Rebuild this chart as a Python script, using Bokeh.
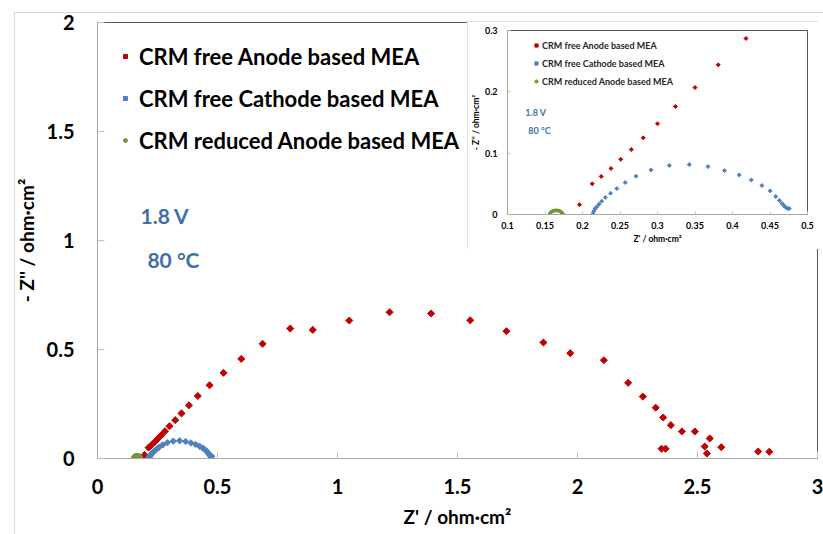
from bokeh.plotting import figure
from bokeh.models import (Range1d, FixedTicker, NumeralTickFormatter, Legend,
                          LegendItem, Label, Div)
from bokeh.layouts import column
from bokeh.embed import file_html
from bokeh.resources import INLINE

# ---------------- data ----------------
series_names = ["CRM free Anode based MEA",
                "CRM free Cathode based MEA",
                "CRM reduced Anode based MEA"]

anode_x = [0.196, 0.213, 0.225, 0.238, 0.251, 0.265, 0.281, 0.300, 0.324,
           0.350, 0.381, 0.418, 0.467, 0.525, 0.599, 0.688, 0.803, 0.897,
           1.049, 1.217, 1.390, 1.553, 1.704, 1.858, 1.970, 2.110, 2.211,
           2.272, 2.326, 2.357, 2.389, 2.435, 2.489, 2.551, 2.530, 2.539,
           2.599, 2.350, 2.367, 2.753, 2.799]
anode_y = [0.016, 0.050, 0.062, 0.075, 0.090, 0.106, 0.125, 0.148, 0.176,
           0.207, 0.244, 0.287, 0.336, 0.393, 0.457, 0.526, 0.596, 0.590,
           0.633, 0.671, 0.665, 0.634, 0.584, 0.532, 0.483, 0.451, 0.347,
           0.284, 0.233, 0.188, 0.153, 0.124, 0.124, 0.092, 0.055, 0.023,
           0.052, 0.045, 0.045, 0.032, 0.031]

cathode_x = [0.2137, 0.2150, 0.2167, 0.2189, 0.2220, 0.2255, 0.2304, 0.2374,
             0.2458, 0.2569, 0.2714, 0.2912, 0.3158, 0.3423, 0.3674, 0.3894,
             0.4089, 0.4251, 0.4392, 0.4502, 0.4577, 0.4625, 0.4661, 0.4687,
             0.4713, 0.4736, 0.4757]
cathode_y = [0.0010, 0.0054, 0.0092, 0.0124, 0.0168, 0.0217, 0.0277, 0.0347,
             0.0423, 0.0521, 0.0624, 0.0727, 0.0798, 0.0814, 0.0781, 0.0716,
             0.0645, 0.0564, 0.0472, 0.0385, 0.0293, 0.0228, 0.0179, 0.0141,
             0.0114, 0.0098, 0.0098]

reduced_x = [0.1563, 0.1568, 0.1576, 0.1587, 0.1600, 0.1615, 0.1631, 0.1648,
             0.1665, 0.1681, 0.1696, 0.1710, 0.1722, 0.1731, 0.1737, 0.1740]
reduced_y = [0.0002, 0.0018, 0.0032, 0.0044, 0.0054, 0.0061, 0.0065, 0.0067,
             0.0066, 0.0062, 0.0055, 0.0046, 0.0035, 0.0023, 0.0011, 0.0001]

x_ticks_main = [0, 0.5, 1, 1.5, 2, 2.5, 3]
y_ticks_main = [0, 0.5, 1, 1.5, 2]
x_ticks_inset = [0.1, 0.15, 0.2, 0.25, 0.3, 0.35, 0.4, 0.45, 0.5]
y_ticks_inset = [0, 0.1, 0.2, 0.3]

RED = "#C00000"
BLUE = "#4F81BD"
GREEN = "#77933C"
NOTE = "#4170A8"
FONT = "Lato"


def style_axes(fig, tick_len, lab_size, title_size, lab_standoff_x,
               lab_standoff_y, title_standoff_x, title_standoff_y):
    for ax in (fig.xaxis[0], fig.yaxis[0]):
        ax.major_tick_in = tick_len
        ax.major_tick_out = 0
        ax.minor_tick_line_color = None
        ax.major_tick_line_color = "#BFBFBF"
        ax.axis_line_color = "#A6A6A6"
        ax.major_label_text_font = FONT
        ax.major_label_text_font_style = "bold"
        ax.major_label_text_font_size = lab_size
        ax.major_label_text_color = "black"
        ax.axis_label_text_font = FONT
        ax.axis_label_text_font_style = "bold"
        ax.axis_label_text_font_size = title_size
        ax.axis_label_text_color = "black"
    fig.xaxis[0].major_label_standoff = lab_standoff_x
    fig.yaxis[0].major_label_standoff = lab_standoff_y
    fig.xaxis[0].axis_label_standoff = title_standoff_x
    fig.yaxis[0].axis_label_standoff = title_standoff_y


# ---------------- main plot ----------------
p = figure(width=823, height=534, x_range=Range1d(0, 3), y_range=Range1d(0, 2),
           output_backend="svg", toolbar_location=None,
           min_border_left=97, min_border_right=6, min_border_top=22,
           min_border_bottom=76)
p.frame_align = False
p.grid.visible = False
p.outline_line_color = "#595959"
p.background_fill_color = "white"
p.border_fill_color = "white"
p.xaxis.ticker = FixedTicker(ticks=x_ticks_main)
p.yaxis.ticker = FixedTicker(ticks=y_ticks_main)
p.xaxis.formatter = NumeralTickFormatter(format="0.[0]")
p.yaxis.formatter = NumeralTickFormatter(format="0.[0]")
p.xaxis.axis_label = "Z' / ohm·cm²"
p.yaxis.axis_label = "- Z'' / ohm·cm²"
style_axes(p, 7, "20px", "19px", 20, 23, 8, 6)

r1 = p.scatter(anode_x, anode_y, marker="square", angle=0.785, size=5,
               color=RED)
r2 = p.scatter(cathode_x, cathode_y, marker="square", angle=0.785, size=4.5,
               color=BLUE)
r3 = p.scatter(reduced_x, reduced_y, marker="circle", size=7, color=GREEN)

leg = Legend(items=[LegendItem(label=series_names[0], renderers=[r1]),
                    LegendItem(label=series_names[1], renderers=[r2]),
                    LegendItem(label=series_names[2], renderers=[r3])],
             location=(23, 297), border_line_color=None,
             background_fill_alpha=0, padding=0, spacing=0, margin=0,
             glyph_width=10, glyph_height=42, label_height=42,
             label_standoff=9, label_text_font=FONT,
             label_text_font_size="22px", label_text_font_style="bold",
             label_text_color="black")
p.add_layout(leg)

p.add_layout(Label(x=0.179, y=1.115, text="1.8 V", text_baseline="middle",
                   text_font=FONT, text_font_size="21px",
                   text_font_style="bold", text_color=NOTE))
p.add_layout(Label(x=0.208, y=0.913, text="80 °C", text_baseline="middle",
                   text_font=FONT, text_font_size="21px",
                   text_font_style="bold", text_color=NOTE))

# ---------------- inset ----------------
q = figure(width=351, height=228, x_range=Range1d(0.1, 0.5),
           y_range=Range1d(0, 0.3), output_backend="svg",
           toolbar_location=None, min_border_left=37, min_border_right=11,
           min_border_top=9, min_border_bottom=35)
q.frame_align = False
q.grid.visible = False
q.outline_line_color = "#595959"
q.background_fill_color = "white"
q.border_fill_color = "white"
q.xaxis.ticker = FixedTicker(ticks=x_ticks_inset)
q.yaxis.ticker = FixedTicker(ticks=y_ticks_inset)
q.xaxis.formatter = NumeralTickFormatter(format="0.[00]")
q.yaxis.formatter = NumeralTickFormatter(format="0.[0]")
q.xaxis.axis_label = "Z' / ohm·cm²"
q.yaxis.axis_label = "- Z'' / ohm·cm²"
style_axes(q, 3, "9px", "8.5px", 7, 10, 2, 1)

s1 = q.scatter(anode_x, anode_y, marker="square", angle=0.785, size=2.8,
               color=RED)
s2 = q.scatter(cathode_x, cathode_y, marker="square", angle=0.785, size=2.8,
               color=BLUE)
s3 = q.scatter(reduced_x, reduced_y, marker="circle", size=2.8, color=GREEN)

leg2 = Legend(items=[LegendItem(label=series_names[0], renderers=[s1]),
                     LegendItem(label=series_names[1], renderers=[s2]),
                     LegendItem(label=series_names[2], renderers=[s3])],
              location=(25, 124), border_line_color=None,
              background_fill_alpha=0, padding=0, spacing=0, margin=0,
              glyph_width=8, glyph_height=18, label_height=18,
              label_standoff=2, label_text_font=FONT,
              label_text_font_size="9px", label_text_font_style="bold",
              label_text_color="#262626")
q.add_layout(leg2)
q.add_layout(Label(x=0.1238, y=0.1665, text="1.8 V", text_baseline="middle",
                   text_font=FONT, text_font_size="9px",
                   text_font_style="bold", text_color=NOTE))
q.add_layout(Label(x=0.1278, y=0.137, text="80 °C", text_baseline="middle",
                   text_font=FONT, text_font_size="9px",
                   text_font_style="bold", text_color=NOTE))

q.styles = {"position": "absolute", "left": "467px", "top": "21px",
            "outline": "1px solid #D9D9D9", "outline-offset": "-1px"}

frame = Div(text="", width=830, height=540,
            styles={"position": "absolute", "left": "9px", "top": "7px",
                    "border-left": "1px solid #D9D9D9",
                    "border-top": "1px solid #D9D9D9",
                    "pointer-events": "none"})

layout = column(p, frame, q)

open("out.html", "w").write(file_html(layout, INLINE))
